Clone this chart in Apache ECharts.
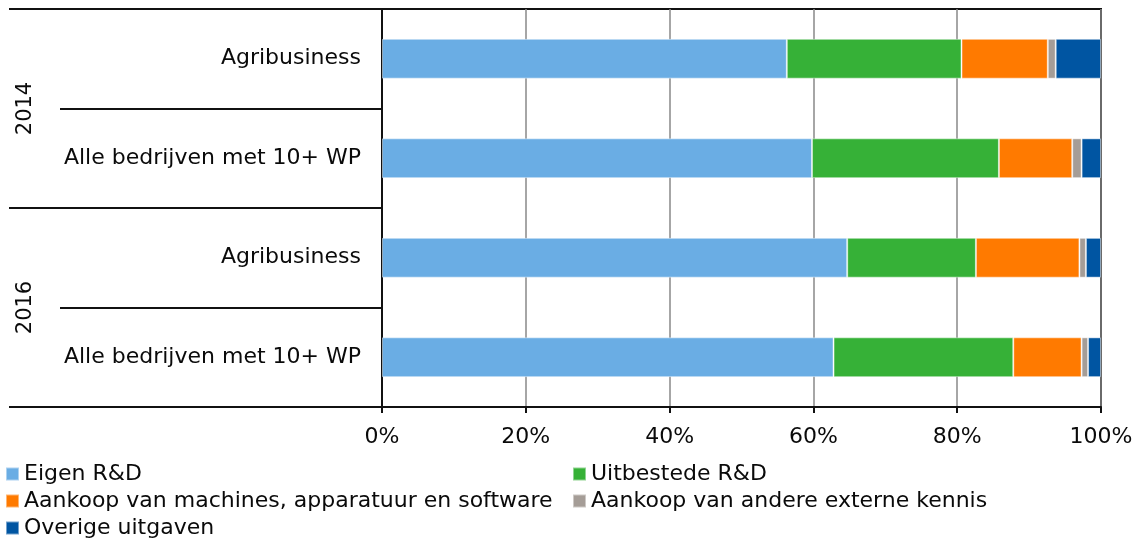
<!DOCTYPE html>
<html>
<head>
<meta charset="utf-8">
<script src="https://cdn.jsdelivr.net/npm/echarts@6/dist/echarts.min.js"></script>
<style>
  html, body { margin: 0; padding: 0; background: #fff; }
  #chart { width: 1140px; height: 540px; }
</style>
</head>
<body>
<div id="chart"></div>
<script>
// Spending on innovation by type, share of total (%)
const categories = ['Agribusiness', 'Alle bedrijven met 10+ WP', 'Agribusiness', 'Alle bedrijven met 10+ WP'];
const years = ['2014', '2016'];
const xTicks = [0, 20, 40, 60, 80, 100];

const eigenRD      = [56.3, 59.8, 64.7, 62.8];
const uitbesteedRD = [24.3, 26.0, 17.9, 25.0];
const machines     = [12.0, 10.2, 14.4, 9.5];
const externeKennis = [1.1, 1.3, 0.9, 0.9];
const overige      = [6.3, 2.7, 2.1, 1.8];

const seriesNames = [
  'Eigen R&D',
  'Uitbestede R&D',
  'Aankoop van machines, apparatuur en software',
  'Aankoop van andere externe kennis',
  'Overige uitgaven'
];
const seriesData = [eigenRD, uitbesteedRD, machines, externeKennis, overige];
const colors = ['#6aade4', '#36b137', '#ff7a00', '#a59d97', '#0055a2'];

const FONT = 'DejaVu Sans';
const lineColor = '#111';
const textColor = '#0a0a0a';

const chart = echarts.init(document.getElementById('chart'), null, { renderer: 'canvas' });

const legendBase = {
  orient: 'vertical', top: 463, padding: 0, itemGap: 5,
  itemWidth: 13, itemHeight: 13, icon: 'rect', selectedMode: false,
  textStyle: { fontFamily: FONT, fontSize: 22, color: textColor, lineHeight: 22 }
};

chart.setOption({
  animation: false,
  backgroundColor: '#fff',
  textStyle: { fontFamily: FONT },
  grid: {
    left: 382, right: 39, top: 9, bottom: 133,
    show: true, borderColor: lineColor, borderWidth: 2, backgroundColor: 'transparent'
  },
  legend: [
    Object.assign({}, legendBase, { left: 5, data: [seriesNames[0], seriesNames[2], seriesNames[4]] }),
    Object.assign({}, legendBase, { left: 572, data: [seriesNames[1], seriesNames[3]] })
  ],
  xAxis: {
    type: 'value', min: xTicks[0], max: xTicks[xTicks.length - 1], interval: 20,
    axisLine: { show: true, lineStyle: { color: lineColor, width: 2 } },
    axisTick: { show: true, length: 6, lineStyle: { color: lineColor, width: 2 } },
    axisLabel: {
      formatter: '{value}%', fontFamily: FONT, fontSize: 22, color: textColor, margin: 19
    },
    splitLine: { show: true, lineStyle: { color: '#888', width: 1.5 } }
  },
  yAxis: [
    {
      type: 'category', inverse: true, data: categories,
      axisLine: { show: true, lineStyle: { color: lineColor, width: 2 } },
      axisTick: { show: true, length: 322, interval: 0, lineStyle: { color: lineColor, width: 2 } },
      axisLabel: { fontFamily: FONT, fontSize: 22, color: textColor, margin: 21, interval: 0 }
    },
    {
      type: 'category', inverse: true, data: years, position: 'left',
      axisLine: { show: false },
      axisTick: { show: true, length: 373, interval: 0, lineStyle: { color: lineColor, width: 2 } },
      axisLabel: { fontFamily: FONT, fontSize: 21, color: textColor, rotate: 90, margin: 346, interval: 0 }
    }
  ],
  series: seriesNames.map((name, i) => ({
    name: name,
    type: 'bar',
    stack: 'total',
    yAxisIndex: 0,
    barWidth: '40%',
    data: seriesData[i],
    itemStyle: { color: colors[i], borderColor: 'rgba(255,255,255,0.45)', borderWidth: 1 }
  }))
});
</script>
</body>
</html>
